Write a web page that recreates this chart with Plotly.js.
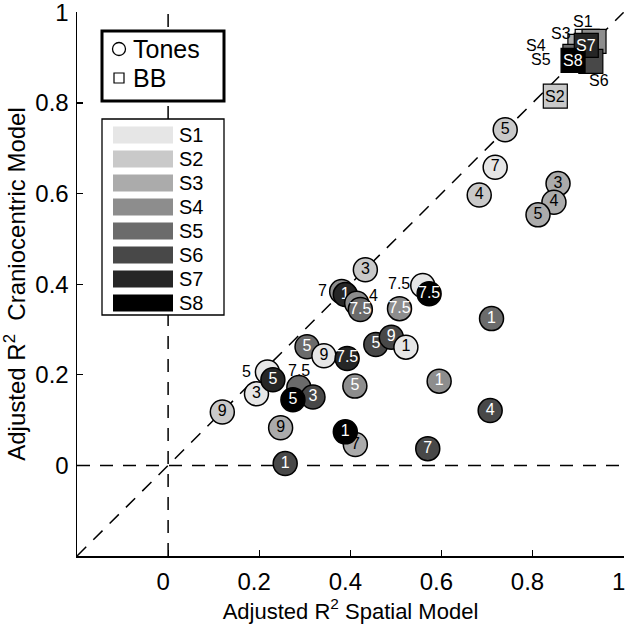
<!DOCTYPE html>
<html>
<head>
<meta charset="utf-8">
<script src="https://cdn.plot.ly/plotly-3.0.1.min.js"></script>
<style>html,body{margin:0;padding:0;background:#fff;}#plot{width:625px;height:639px;}</style>
</head>
<body>
<div id="plot"></div>
<script>
// ---------- DATA ----------
const subjects = ['S1','S2','S3','S4','S5','S6','S7','S8'];
const tickVals = [0, 0.2, 0.4, 0.6, 0.8, 1];
const tickText = ['0', '0.2', '0.4', '0.6', '0.8', '1'];

// Tones (circles), in drawing order
const toneLabel = ['5','7','4','3','4','5','3','7','1','4','7.5','7.5','7.5','7.5','1','5','9','1','5','9','7.5','5','3','5','7.5','3','5','9','5','1','4','9','7','1','7','1'];
const toneSubj  = [2,1,2,3,3,3,2,4,7,4,5,4,1,8,5,6,6,1,5,1,7,1,1,7,5,6,8,2,4,4,6,3,3,8,6,6];
const toneX = [0.740,0.718,0.683,0.856,0.847,0.812,0.433,0.381,0.389,0.414,0.422,0.508,0.559,0.573,0.710,0.456,0.490,0.522,0.305,0.342,0.393,0.218,0.194,0.230,0.287,0.318,0.274,0.119,0.410,0.595,0.707,0.247,0.411,0.389,0.570,0.257];
const toneY = [0.741,0.658,0.597,0.622,0.581,0.553,0.432,0.384,0.377,0.358,0.344,0.346,0.397,0.379,0.324,0.267,0.283,0.261,0.262,0.242,0.236,0.206,0.158,0.189,0.172,0.151,0.145,0.118,0.175,0.186,0.121,0.083,0.046,0.074,0.037,0.004];

// BB (squares), in drawing order
const bbSubj = [1,3,4,5,6,7,8,2];
const bbX = [0.920,0.904,0.935,0.893,0.928,0.918,0.889,0.850];
const bbY = [0.936,0.925,0.936,0.903,0.892,0.927,0.894,0.815];

// ---------- STYLE ----------
const grays = ['#e6e6e6','#c9c9c9','#ababab','#8d8d8d','#6b6b6b','#484848','#262626','#000000'];
const FONT = 'Liberation Sans, Arial, Helvetica, sans-serif';
// labels displaced outside their (hidden) circle: index -> [xshift, yshift] px
const toneLabelShift = {7:[-19,1], 9:[17,8], 12:[-24,2], 21:[-21,1], 24:[0,17]};
// BB label offsets by subject number -> [xshift, yshift] px
const bbLabelShift = {1:[-4,20], 3:[-19,13], 4:[-58,-4], 5:[-34,-3], 6:[8,-19], 2:[0,0], 7:[0,0], 8:[0,0]};

const L = 77, R = 1, T = 12, B = 83, W = 625, H = 639;
const pw = W - L - R, ph = H - T - B;
const pxX = x => (x - L) / pw;
const pxY = y => (H - B - y) / ph;
const xr = [-0.2, 1.0008], yr = [-0.2, 1.0008];

const traces = [];
const annotations = [];

toneX.forEach((x, i) => {
  const s = toneSubj[i];
  const shifted = toneLabelShift.hasOwnProperty(i);
  const tr = {
    type: 'scatter', mode: shifted ? 'markers' : 'markers+text', x: [x], y: [toneY[i]],
    marker: {symbol: 'circle', size: 24, color: grays[s - 1], line: {color: '#000', width: 1.5}},
    hoverinfo: 'skip', showlegend: false, cliponaxis: false
  };
  if (!shifted) {
    tr.text = [toneLabel[i]];
    tr.textposition = 'middle center';
    tr.textfont = {family: FONT, size: 16, color: s >= 4 ? '#ffffff' : '#000000'};
  }
  traces.push(tr);
  if (shifted) {
    annotations.push({x: x, y: toneY[i], xref: 'x', yref: 'y', text: toneLabel[i], showarrow: false,
      xshift: toneLabelShift[i][0], yshift: toneLabelShift[i][1],
      font: {family: FONT, size: 16, color: '#000'}});
  }
});

bbX.forEach((x, i) => {
  const s = bbSubj[i];
  traces.push({
    type: 'scatter', mode: 'markers', x: [x], y: [bbY[i]],
    marker: {symbol: 'square', size: 24, color: grays[s - 1], line: {color: '#000', width: 1.2}},
    hoverinfo: 'skip', showlegend: false, cliponaxis: false
  });
  const sh = bbLabelShift[s];
  const inside = sh[0] === 0 && sh[1] === 0;
  annotations.push({x: x, y: bbY[i], xref: 'x', yref: 'y', text: subjects[s - 1], showarrow: false,
    xshift: sh[0], yshift: sh[1],
    font: {family: FONT, size: 16, color: inside && s >= 4 ? '#fff' : '#000'}});
});

const DASH = '13px,10px';
const shapes = [
  // reference dashed lines
  {type: 'line', xref: 'x', yref: 'y', x0: 0, x1: 0, y0: -0.2, y1: 1, layer: 'below', line: {color: '#000', width: 1.5, dash: DASH}},
  {type: 'line', xref: 'x', yref: 'y', x0: -0.2, x1: 1, y0: 0, y1: 0, layer: 'below', line: {color: '#000', width: 1.5, dash: DASH}},
  {type: 'line', xref: 'x', yref: 'y', x0: -0.2, x1: 1, y0: -0.2, y1: 1, layer: 'below', line: {color: '#000', width: 1.5, dash: DASH}},
  // legend box 1
  {type: 'rect', xref: 'paper', yref: 'paper', x0: pxX(102), x1: pxX(224), y0: pxY(101), y1: pxY(31), fillcolor: '#fff', line: {color: '#000', width: 3}},
  {type: 'circle', xref: 'paper', yref: 'paper', x0: pxX(112.5), x1: pxX(125.5), y0: pxY(55.5), y1: pxY(42.5), fillcolor: '#fff', line: {color: '#000', width: 1.3}},
  {type: 'rect', xref: 'paper', yref: 'paper', x0: pxX(114), x1: pxX(124), y0: pxY(83), y1: pxY(73), fillcolor: '#fff', line: {color: '#000', width: 1.2}},
  // legend box 2
  {type: 'rect', xref: 'paper', yref: 'paper', x0: pxX(102), x1: pxX(224), y0: pxY(315), y1: pxY(119), fillcolor: '#fff', line: {color: '#000', width: 1.3}}
];
annotations.push({xref: 'paper', yref: 'paper', x: pxX(131), y: pxY(49), xanchor: 'left', yanchor: 'middle', text: 'Tones', showarrow: false, font: {family: FONT, size: 25, color: '#000'}});
annotations.push({xref: 'paper', yref: 'paper', x: pxX(131), y: pxY(78), xanchor: 'left', yanchor: 'middle', text: 'BB', showarrow: false, font: {family: FONT, size: 25, color: '#000'}});
subjects.forEach((s, i) => {
  const yc = 135 + 24 * i;
  shapes.push({type: 'rect', xref: 'paper', yref: 'paper', x0: pxX(113), x1: pxX(173), y0: pxY(yc + 8.5), y1: pxY(yc - 8.5), fillcolor: grays[i], line: {width: 0}});
  annotations.push({xref: 'paper', yref: 'paper', x: pxX(177), y: pxY(yc), xanchor: 'left', yanchor: 'middle', text: s, showarrow: false, font: {family: FONT, size: 20, color: '#000'}});
});

const axisCommon = {
  tickvals: tickVals, ticktext: tickText, ticks: 'inside', ticklen: 6, tickwidth: 1.2, tickcolor: '#000',
  showline: true, linecolor: '#000', linewidth: 1.5, mirror: false, showgrid: false, zeroline: false,
  tickfont: {family: FONT, size: 24, color: '#000'}, fixedrange: true, ticklabeloverflow: 'allow'
};

const layout = {
  width: W, height: H, margin: {l: L, r: R, t: T, b: B, pad: 0},
  paper_bgcolor: '#fff', plot_bgcolor: '#fff', showlegend: false,
  xaxis: Object.assign({}, axisCommon, {range: xr, ticklabelstandoff: 4, ticklabelshift: -5,
    title: {text: 'Adjusted R<sup>2</sup> Spatial Model', font: {family: FONT, size: 22, color: '#000'}, standoff: 7}}),
  yaxis: Object.assign({}, axisCommon, {range: yr, ticklabelstandoff: 2,
    title: {text: 'Adjusted R<sup>2</sup>  Craniocentric Model', font: {family: FONT, size: 24, color: '#000'}, standoff: 14}}),
  shapes: shapes, annotations: annotations
};

Plotly.newPlot('plot', traces, layout, {staticPlot: true, displayModeBar: false});
</script>
</body>
</html>
